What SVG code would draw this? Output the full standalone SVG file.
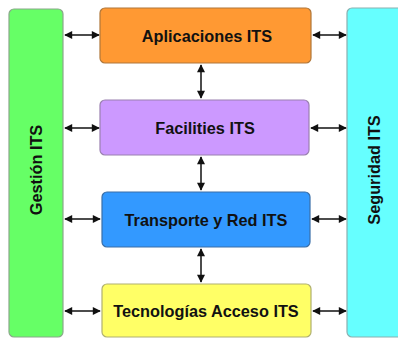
<svg xmlns="http://www.w3.org/2000/svg" width="398" height="338" viewBox="0 0 398 338">
<style>
.box{stroke-width:1.2}
.lbl{font-family:"Liberation Sans",Arial,sans-serif;font-weight:bold;font-size:16.3px;fill:#111;text-anchor:middle;dominant-baseline:central}
.con{stroke:#111;stroke-width:1.5;fill:none;marker-start:url(#ah);marker-end:url(#ah)}
</style>
<defs>
<marker id="ah" viewBox="0 0 10 10" refX="9" refY="5" markerWidth="10" markerHeight="8" markerUnits="userSpaceOnUse" orient="auto-start-reverse">
<path d="M0,0 L10,5 L0,10 z" fill="#111"/>
</marker>
</defs>
<rect width="398" height="338" fill="#fff"/>
<g id="gestion">
<rect class="box" x="9" y="9" width="54" height="328" rx="5" fill="#66ff66" stroke="#8aa88a"/>
<text class="lbl" transform="translate(36,170) rotate(-90)">Gestión ITS</text>
</g>
<g id="seguridad">
<rect class="box" x="347" y="8" width="60" height="329" rx="5" fill="#66ffff" stroke="#8ab0b0"/>
<text class="lbl" transform="translate(374,170) rotate(-90)">Seguridad ITS</text>
</g>
<g id="aplicaciones">
<rect class="box" x="100" y="8" width="211" height="55" rx="5" fill="#ff9933" stroke="#b0773a"/>
<text class="lbl" x="207" y="36">Aplicaciones ITS</text>
</g>
<g id="facilities">
<rect class="box" x="100" y="100" width="209" height="55" rx="5" fill="#cc99ff" stroke="#9a80b0"/>
<text class="lbl" x="205" y="128">Facilities ITS</text>
</g>
<g id="transporte">
<rect class="box" x="102" y="192" width="208" height="55" rx="5" fill="#3399ff" stroke="#3a6fa8"/>
<text class="lbl" x="206" y="220">Transporte y Red ITS</text>
</g>
<g id="tecnologias">
<rect class="box" x="102" y="284" width="209" height="53" rx="5" fill="#ffff66" stroke="#b0b070"/>
<text class="lbl" x="206" y="311">Tecnologías Acceso ITS</text>
</g>
<g id="connectors">
<line class="con" x1="65" y1="35" x2="99" y2="35"/>
<line class="con" x1="65" y1="128" x2="99" y2="128"/>
<line class="con" x1="65" y1="219" x2="100" y2="219"/>
<line class="con" x1="65" y1="311" x2="100" y2="311"/>
<line class="con" x1="313" y1="35" x2="346" y2="35"/>
<line class="con" x1="311" y1="128" x2="346" y2="128"/>
<line class="con" x1="312" y1="219" x2="346" y2="219"/>
<line class="con" x1="313" y1="311" x2="346" y2="311"/>
<line class="con" x1="201" y1="65" x2="201" y2="98"/>
<line class="con" x1="201" y1="157" x2="201" y2="190"/>
<line class="con" x1="201" y1="249" x2="201" y2="282"/>
</g>
</svg>
